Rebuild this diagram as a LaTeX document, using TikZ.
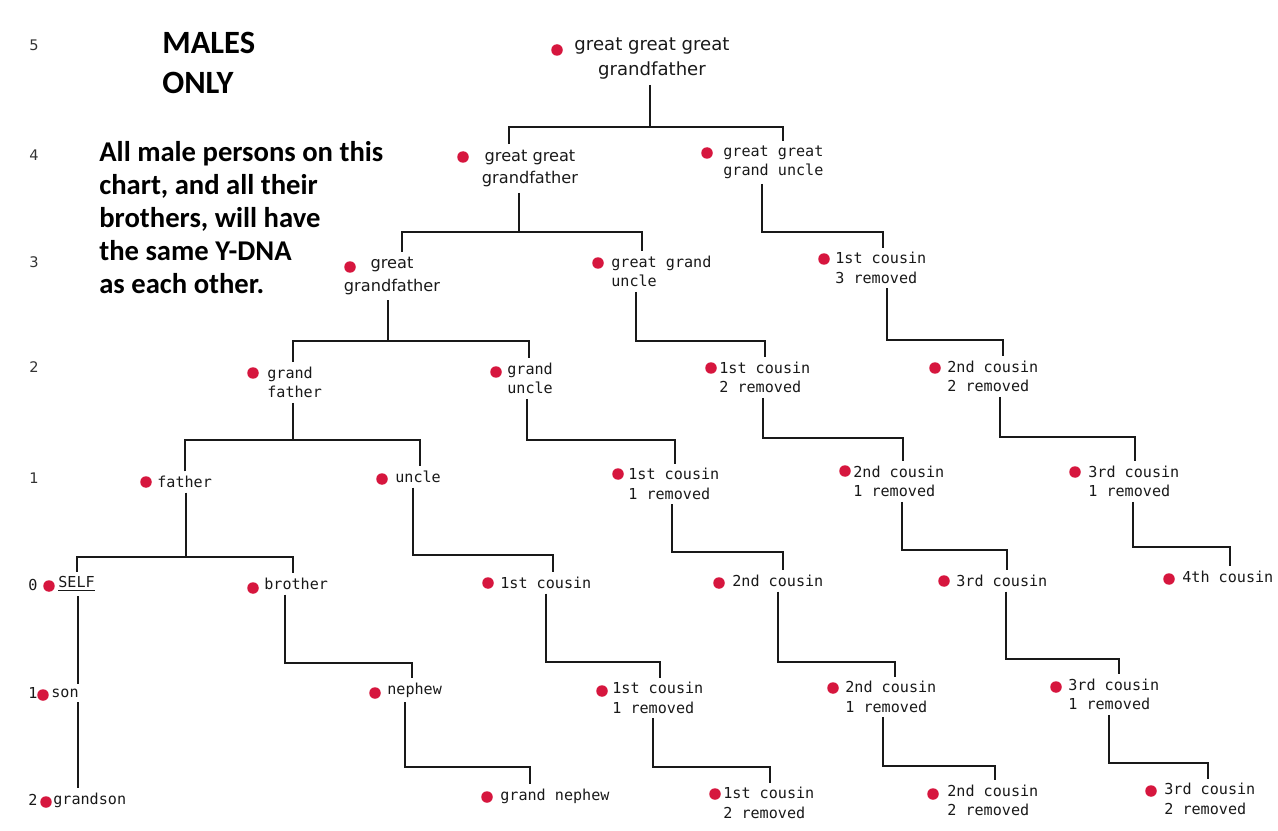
\documentclass[tikz,border=0pt]{standalone}
\usepackage{fontspec}
\setmonofont{DejaVu Sans Mono}
\setsansfont{DejaVu Sans}
\newfontfamily\notefont{Carlito}

\definecolor{dotred}{RGB}{214,22,62}
\definecolor{inkc}{RGB}{25,25,25}

\tikzset{
  person/.style={anchor=west, align=left, inner xsep=0pt, inner ysep=2.5pt, text=inkc,
    font=\ttfamily\fontsize{8.6}{11.1}\selectfont},
  elder/.style={align=center, inner xsep=0pt, inner ysep=3pt, text=inkc,
    font=\sffamily\fontsize{9.2}{13}\selectfont},
  dot/.style={circle, fill=dotred, inner sep=0pt, minimum size=0.23cm},
  link/.style={draw=inkc, line width=0.9pt},
  gen/.style={text=black!80, font=\sffamily\fontsize{8.3}{10}\selectfont},
}

\begin{document}
\begin{tikzpicture}[x=0.02cm, y=-0.02cm]

        \useasboundingbox (0,0) rectangle (1278,831);

        % Generation numbers down the left side
        \node[gen] (n5) at (34,45) {5};
        \node[gen] (n4) at (34,155) {4};
        \node[gen] (n3) at (34,262) {3};
        \node[gen] (n2) at (34,367) {2};
        \node[gen] (n1) at (34,478) {1};
        \node[person, anchor=center] (m0) at (33,585) {0};
        \node[person, anchor=center] (m1) at (33,693) {1};
        \node[person, anchor=center] (m2) at (33,800) {2};

        % Notes
        \node[anchor=west, align=left, inner sep=0pt, font=\notefont\bfseries\fontsize{18.5}{22.8}\selectfont] (title) at (162,62.5) {MALES\\ONLY};
        \node[anchor=west, align=left, inner sep=0pt, font=\notefont\bfseries\fontsize{16.3}{18.8}\selectfont] (note) at (99,217.5) {All male persons on this\\chart, and all their\\brothers, will have\\the same Y-DNA\\as each other.};

        % Generation 5 and 4
        \node[elder, font=\sffamily\fontsize{10.3}{14.2}\selectfont] (gggf) at (652,58.5) {great great great\\grandfather};
        \node[dot] (gggf-d) at (557,50) {};
        \node[elder] (ggf) at (530,168.5) {great great\\grandfather};
        \node[dot] (ggf-d) at (463,157) {};
        \node[person] (ggu) at (723,162.5) {great great\\grand uncle};
        \node[dot] (ggu-d) at (707,153) {};

        % Generation 3
        \node[elder] (gf) at (392,276) {great\\grandfather};
        \node[dot] (gf-d) at (350,267) {};
        \node[person] (ggun) at (611,271.5) {great grand\\uncle};
        \node[dot] (ggun-d) at (598,263) {};
        \node[person] (c13) at (835,268) {1st cousin\\3 removed};
        \node[dot] (c13-d) at (824,259) {};

        % Generation 2
        \node[person] (grandf) at (267,382.5) {grand\\father};
        \node[dot] (grandf-d) at (253,373) {};
        \node[person] (grandu) at (507,378.5) {grand\\uncle};
        \node[dot] (grandu-d) at (496,372) {};
        \node[person] (c12) at (719,377.5) {1st cousin\\2 removed};
        \node[dot] (c12-d) at (711,368) {};
        \node[person] (c22) at (947,376.5) {2nd cousin\\2 removed};
        \node[dot] (c22-d) at (935,368) {};

        % Generation 1
        \node[person] (father) at (157,482) {father};
        \node[dot] (father-d) at (146,482) {};
        \node[person] (uncle) at (395,477) {uncle};
        \node[dot] (uncle-d) at (382,479) {};
        \node[person] (c11a) at (628,484) {1st cousin\\1 removed};
        \node[dot] (c11a-d) at (618,474) {};
        \node[person] (c21a) at (853,481.5) {2nd cousin\\1 removed};
        \node[dot] (c21a-d) at (845,471) {};
        \node[person] (c31a) at (1088,481.5) {3rd cousin\\1 removed};
        \node[dot] (c31a-d) at (1075,472) {};

        % Generation 0
        \node[person] (self) at (58,584) {\underline{SELF}};
        \node[dot] (self-d) at (49,586) {};
        \node[person] (brother) at (264,584) {brother};
        \node[dot] (brother-d) at (253,588) {};
        \node[person] (c1) at (500,583) {1st cousin};
        \node[dot] (c1-d) at (488,583) {};
        \node[person] (c2) at (732,581) {2nd cousin};
        \node[dot] (c2-d) at (719,583) {};
        \node[person] (c3) at (956,581) {3rd cousin};
        \node[dot] (c3-d) at (944,581) {};
        \node[person] (c4) at (1182,577) {4th cousin};
        \node[dot] (c4-d) at (1169,579) {};

        % Generation -1
        \node[person] (son) at (51,693) {son};
        \node[dot] (son-d) at (43,695) {};
        \node[person] (nephew) at (387,690) {nephew};
        \node[dot] (nephew-d) at (375,693) {};
        \node[person] (c11b) at (612,698) {1st cousin\\1 removed};
        \node[dot] (c11b-d) at (602,691) {};
        \node[person] (c21b) at (845,697) {2nd cousin\\1 removed};
        \node[dot] (c21b-d) at (833,688) {};
        \node[person] (c31b) at (1068,694.5) {3rd cousin\\1 removed};
        \node[dot] (c31b-d) at (1056,687) {};

        % Generation -2
        \node[person] (gson) at (53,800) {grandson};
        \node[dot] (gson-d) at (46,802) {};
        \node[person] (gnephew) at (500,796) {grand nephew};
        \node[dot] (gnephew-d) at (487,797) {};
        \node[person] (c12b) at (723,803) {1st cousin\\2 removed};
        \node[dot] (c12b-d) at (715,794) {};
        \node[person] (c22b) at (947,800.5) {2nd cousin\\2 removed};
        \node[dot] (c22b-d) at (933,794) {};
        \node[person] (c32b) at (1164,799) {3rd cousin\\2 removed};
        \node[dot] (c32b-d) at (1151,791) {};

        % Lines of descent
        \draw[link] (gggf.south -| 650,0) -- (650,127);
        \draw[link] (ggf.north -| 509,0) |- (783,127) -- (ggu.north -| 783,0);

        \draw[link] (ggf.south -| 519,0) -- (519,232);
        \draw[link] (gf.north -| 402,0) |- (642,232) -- (ggun.north -| 642,0);
        \draw[link] (ggu.south -| 762,0) |- (883,232) -- (c13.north -| 883,0);

        \draw[link] (gf.south -| 388,0) -- (388,341);
        \draw[link] (grandf.north -| 293,0) |- (529,341) -- (grandu.north -| 529,0);
        \draw[link] (ggun.south -| 636,0) |- (765,341) -- (c12.north -| 765,0);
        \draw[link] (c13.south -| 887,0) |- (1003,340) -- (c22.north -| 1003,0);

        \draw[link] (grandf.south -| 293,0) -- (293,440);
        \draw[link] (father.north -| 185,0) |- (420,440) -- (uncle.north -| 420,0);
        \draw[link] (grandu.south -| 527,0) |- (675,440) -- (c11a.north -| 675,0);
        \draw[link] (c12.south -| 763,0) |- (903,438) -- (c21a.north -| 903,0);
        \draw[link] (c22.south -| 1000,0) |- (1135,437) -- (c31a.north -| 1135,0);

        \draw[link] (father.south -| 186,0) -- (186,557);
        \draw[link] (self.north -| 77,0) |- (293,557) -- (brother.north -| 293,0);
        \draw[link] (uncle.south -| 413,0) |- (553,555) -- (c1.north -| 553,0);
        \draw[link] (c11a.south -| 672,0) |- (783,552) -- (c2.north -| 783,0);
        \draw[link] (c21a.south -| 902,0) |- (1007,550) -- (c3.north -| 1007,0);
        \draw[link] (c31a.south -| 1133,0) |- (1230,547) -- (c4.north -| 1230,0);

        \draw[link] (self.south -| 78,0) -- (son.north -| 78,0);
        \draw[link] (brother.south -| 285,0) |- (412,663) -- (nephew.north -| 412,0);
        \draw[link] (c1.south -| 546,0) |- (660,662) -- (c11b.north -| 660,0);
        \draw[link] (c2.south -| 778,0) |- (895,662) -- (c21b.north -| 895,0);
        \draw[link] (c3.south -| 1006,0) |- (1119,659) -- (c31b.north -| 1119,0);

        \draw[link] (son.south -| 78,0) -- (gson.north -| 78,0);
        \draw[link] (nephew.south -| 405,0) |- (530,767) -- (gnephew.north -| 530,0);
        \draw[link] (c11b.south -| 653,0) |- (770,767) -- (c12b.north -| 770,0);
        \draw[link] (c21b.south -| 883,0) |- (995,766) -- (c22b.north -| 995,0);
        \draw[link] (c31b.south -| 1109,0) |- (1208,763) -- (c32b.north -| 1208,0);

    \end{tikzpicture}
\end{document}
